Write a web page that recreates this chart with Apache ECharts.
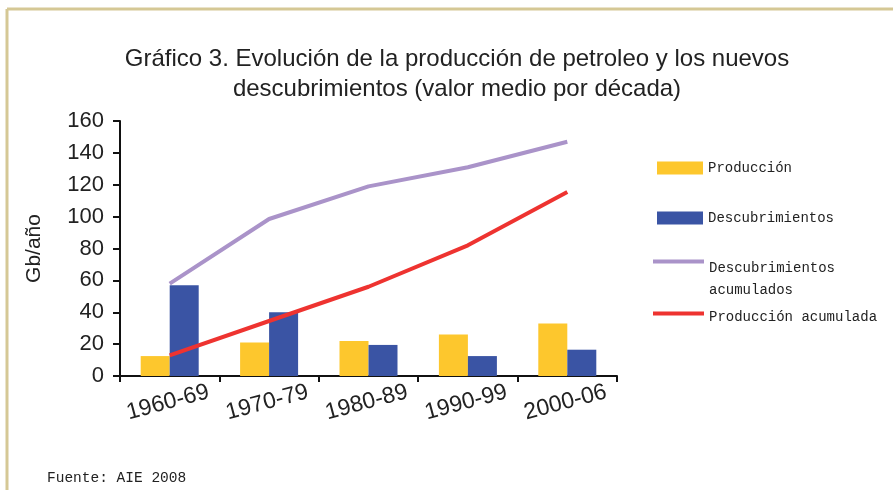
<!DOCTYPE html>
<html>
<head>
<meta charset="utf-8">
<script src="https://cdn.jsdelivr.net/npm/echarts@6/dist/echarts.min.js"></script>
<style>
  html, body { margin: 0; padding: 0; background: #fff; }
  #chart { width: 893px; height: 490px; }
</style>
</head>
<body>
<div id="chart"></div>
<script>
// valores (Gb/año, media por década)
var categories = ["1960-69", "1970-79", "1980-89", "1990-99", "2000-06"];
var produccion = [12.5, 21, 22, 26, 33];
var descubrimientos = [57, 40, 19.5, 12.5, 16.5];
var descAcumulados = [58, 98.5, 119, 131, 147];
var prodAcumulada = [13, 34.5, 56, 82, 115.5];
var yTicks = [0, 20, 40, 60, 80, 100, 120, 140, 160];

var chart = echarts.init(document.getElementById("chart"));

var legendText = {
  fontFamily: "Liberation Mono",
  fontSize: 14,
  color: "#222"
};
var legendRich = {
  a: { lineHeight: 22, fontFamily: "Liberation Mono", fontSize: 14, color: "#222" }
};

chart.setOption({
  animation: false,
  backgroundColor: "#fff",
  title: {
    text: "Gráfico 3. Evolución de la producción de petroleo y los nuevos\ndescubrimientos (valor medio por década)",
    left: 452,
    top: 39,
    textAlign: "center",
    textStyle: {
      fontFamily: "Liberation Sans",
      fontWeight: "normal",
      fontSize: 24,
      lineHeight: 30,
      color: "#222"
    }
  },
  graphic: [
    {
      type: "line",
      shape: { x1: 7, y1: 9, x2: 893, y2: 9 },
      style: { stroke: "#d5c895", lineWidth: 3 }
    },
    {
      type: "line",
      shape: { x1: 7, y1: 9, x2: 7, y2: 490 },
      style: { stroke: "#d5c895", lineWidth: 3 }
    },
    {
      type: "text",
      left: 47,
      top: 471,
      style: {
        text: "Fuente: AIE 2008",
        font: "14.5px 'Liberation Mono'",
        fill: "#222"
      }
    }
  ],
  legend: [
    {
      data: [{ name: "Producción", icon: "rect" }],
      left: 657, top: 161, padding: 0, itemWidth: 46, itemHeight: 13,
      textStyle: legendText, selectedMode: false
    },
    {
      data: [{ name: "Descubrimientos", icon: "rect" }],
      left: 657, top: 211, padding: 0, itemWidth: 46, itemHeight: 13,
      textStyle: legendText, selectedMode: false
    },
    {
      data: [{ name: "Descubrimientos acumulados", icon: "rect" }],
      left: 653, top: 239, padding: 0, itemWidth: 51, itemHeight: 4,
      formatter: function () { return "{s| }\n{a|Descubrimientos}\n{a|acumulados}"; },
      textStyle: Object.assign({
        rich: Object.assign({ s: { lineHeight: 36, fontSize: 1 } }, legendRich)
      }, legendText),
      selectedMode: false
    },
    {
      data: [{ name: "Producción acumulada", icon: "rect" }],
      left: 653, top: 302, padding: 0, itemWidth: 51, itemHeight: 4,
      formatter: function (name) { return "{s| }\n{a|" + name + "}"; },
      textStyle: Object.assign({
        rich: Object.assign({ s: { lineHeight: 8, fontSize: 1 } }, legendRich)
      }, legendText),
      selectedMode: false
    }
  ],
  grid: {
    left: 120,
    right: 276,
    top: 121,
    bottom: 114
  },
  xAxis: {
    type: "category",
    data: categories,
    axisLine: { lineStyle: { color: "#111", width: 2 } },
    axisTick: { show: true, length: 6, lineStyle: { color: "#111", width: 2 } },
    axisLabel: {
      interval: 0,
      rotate: 15,
      align: "center",
      verticalAlign: "top",
      margin: 14,
      padding: [0, 10, 0, 0],
      fontFamily: "Liberation Sans",
      fontSize: 23,
      color: "#222"
    }
  },
  yAxis: {
    type: "value",
    min: 0,
    max: 160,
    interval: 20,
    name: "Gb/año",
    nameLocation: "middle",
    nameGap: 75,
    nameTextStyle: { fontFamily: "Liberation Sans", fontSize: 21, color: "#222" },
    splitLine: { show: false },
    axisLine: { show: true, lineStyle: { color: "#111", width: 2 } },
    axisTick: { show: true, length: 7, lineStyle: { color: "#111", width: 2 } },
    axisLabel: {
      margin: 16,
      fontFamily: "Liberation Sans",
      fontSize: 22,
      color: "#222",
      formatter: function (v) { return yTicks.indexOf(v) >= 0 ? String(v) : ""; }
    }
  },
  series: [
    {
      name: "Producción",
      type: "bar",
      data: produccion,
      barWidth: 29,
      barGap: "0%",
      itemStyle: { color: "#fdc72d" }
    },
    {
      name: "Descubrimientos",
      type: "bar",
      data: descubrimientos,
      barWidth: 29,
      barGap: "0%",
      itemStyle: { color: "#3a54a4" }
    },
    {
      name: "Descubrimientos acumulados",
      type: "line",
      data: descAcumulados,
      symbol: "none",
      lineStyle: { color: "#aa93c9", width: 4 },
      itemStyle: { color: "#aa93c9" }
    },
    {
      name: "Producción acumulada",
      type: "line",
      data: prodAcumulada,
      symbol: "none",
      lineStyle: { color: "#ee3330", width: 4 },
      itemStyle: { color: "#ee3330" }
    }
  ]
});
</script>
</body>
</html>
